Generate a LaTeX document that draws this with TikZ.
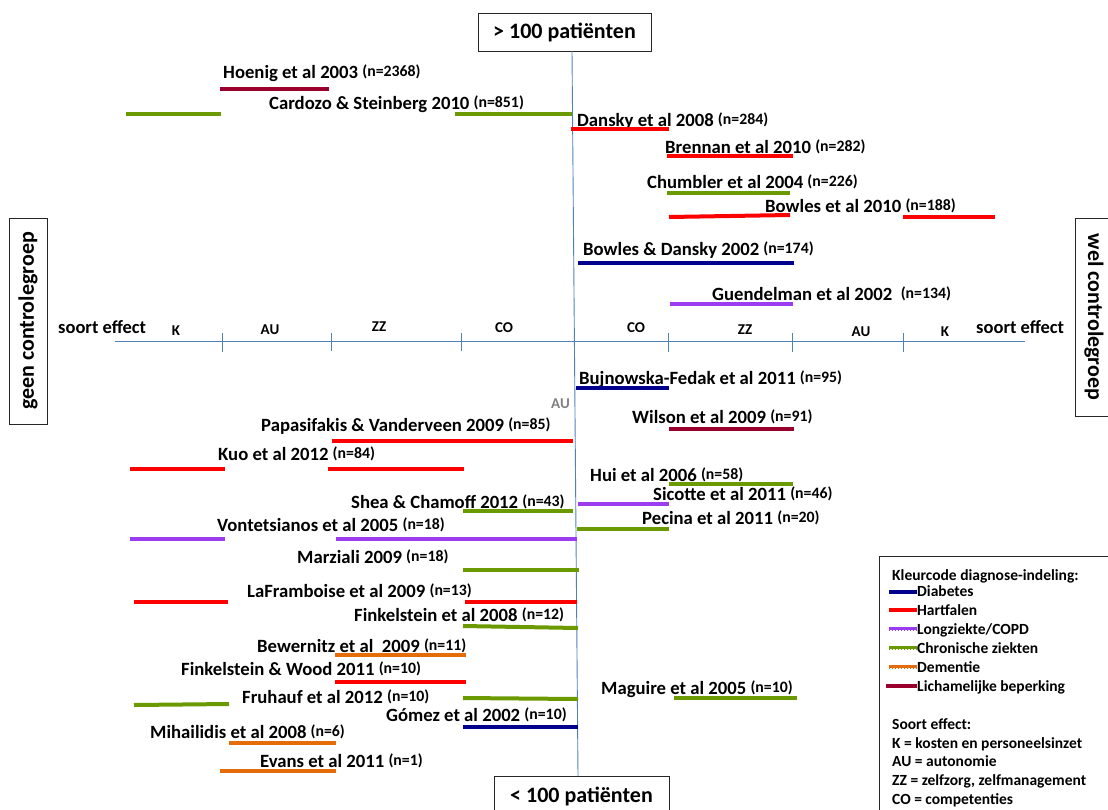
\documentclass[tikz,border=0pt]{standalone}
\usepackage{fontspec}
\setmainfont{Carlito}
\usepackage{tikz}

\definecolor{diabetes}{RGB}{0,0,140}
\definecolor{hartfalen}{RGB}{255,0,0}
\definecolor{longziekte}{RGB}{155,60,240}
\definecolor{chronisch}{RGB}{106,153,0}
\definecolor{dementie}{RGB}{228,108,10}
\definecolor{lichamelijk}{RGB}{153,0,45}
\definecolor{axisblue}{RGB}{79,129,189}

\newcommand{\nval}[1]{{\fontsize{15.8}{18}\selectfont\raisebox{2pt}{(n=#1)}}}

\begin{document}
\begin{tikzpicture}[x=1pt,y=-1pt,inner sep=0pt,
  study/.style={anchor=base west,font=\fontsize{18.7}{22}\selectfont\bfseries},
  effect/.style={anchor=base,font=\fontsize{15}{17}\selectfont\bfseries},
  sideeffect/.style={anchor=base west,font=\fontsize{18.5}{22}\selectfont\bfseries},
  legtext/.style={anchor=base west,font=\fontsize{15.5}{18}\selectfont\bfseries},
  frame/.style={draw=black!85,line width=0.9pt},
  bigbox/.style={frame,font=\fontsize{22}{25}\selectfont\bfseries},
  bar/.style={line width=4pt},
  legdash/.style={draw=white,line width=0.6pt,dash pattern=on 2pt off 1pt},
  axisline/.style={draw=axisblue,line width=0.9pt}]

\path[use as bounding box,clip] (0,0) rectangle (1108,809);

% kaders
\node (top) at (564.5,32) [bigbox,minimum width=173,minimum height=38] {> 100 patiënten};
\node (bottom) at (581.5,796) [bigbox,minimum width=175,minimum height=40] {< 100 patiënten};
\node (geen) at (28,321) [bigbox,rotate=90,minimum width=206,minimum height=38] {geen controlegroep};
\node (wel) at (1094,317) [bigbox,rotate=-90,minimum width=198,minimum height=38] {wel controlegroep};

% assen
\coordinate (ytop) at (572,51);
\coordinate (ybot) at (578,776);
\coordinate (xl) at (115,341);
\coordinate (xr) at (1025,341);
\draw[axisline] (ytop) -- (ybot);
\draw[axisline] (xl) -- (xr);
\draw[axisline] (222,333) -- (222,352);
\draw[axisline] (331,333) -- (331,351);
\draw[axisline] (461,333) -- (461,351);
\draw[axisline] (668,333) -- (668,352);
\draw[axisline] (792,333) -- (792,352);
\draw[axisline] (903,333) -- (903,352);

\node (seL) at (58,333) [sideeffect] {soort effect};
\node (seR) at (976,333) [sideeffect] {soort effect};
\node (kL) at (176,335) [effect] {K};
\node (auL) at (270,334) [effect] {AU};
\node (zzL) at (379,331) [effect] {ZZ};
\node (coL) at (504,332) [effect] {CO};
\node (coR) at (636,332) [effect] {CO};
\node (zzR) at (745,334) [effect] {ZZ};
\node (auR) at (861,336) [effect] {AU};
\node (kR) at (945,336) [effect] {K};
\node (au) at (551,408) [anchor=base west,text=black!50,font=\fontsize{15}{17}\selectfont\bfseries] {AU};

% studies boven
\node (hoenig) at (223,78) [study] {Hoenig et al 2003 \nval{2368}};
\draw[bar,lichamelijk] (220,89) -- (329,89);
\node (cardozo) at (269,109) [study] {Cardozo \& Steinberg 2010 \nval{851}};
\draw[bar,chronisch] (126,114) -- (221,114);
\draw[bar,chronisch] (455,114) -- (572,114);
\node (dansky) at (577,126) [study] {Dansky et al 2008 \nval{284}};
\draw[bar,hartfalen] (571,129) -- (669,129);
\node (brennan) at (665,153) [study] {Brennan et al 2010 \nval{282}};
\draw[bar,hartfalen] (667,156) -- (793,156);
\node (chumbler) at (647,188) [study] {Chumbler et al 2004 \nval{226}};
\draw[bar,chronisch] (667,193) -- (790,193);
\node (bowles) at (765,212) [study] {Bowles et al 2010 \nval{188}};
\draw[bar,hartfalen] (669,217) -- (790,215);
\draw[bar,hartfalen] (903,217) -- (995,217);
\node (bowlesdansky) at (583,255) [study] {Bowles \& Dansky 2002 \nval{174}};
\draw[bar,diabetes] (578,263) -- (794,263);
\node (guendelman) at (712,300) [study] {Guendelman et al 2002\ \ \nval{134}};
\draw[bar,longziekte] (670,304) -- (793,304);

% studies onder
\node (bujnowska) at (579,384) [study] {Bujnowska-Fedak et al 2011 \nval{95}};
\draw[bar,diabetes] (576,388) -- (669,388);
\node (wilson) at (632,423) [study] {Wilson et al 2009 \nval{91}};
\draw[bar,lichamelijk] (669,429) -- (794,429);
\node (papasifakis) at (261,431) [study] {Papasifakis \& Vanderveen 2009 \nval{85}};
\draw[bar,hartfalen] (332,441) -- (573,441);
\node (kuo) at (218,460) [study] {Kuo et al 2012 \nval{84}};
\draw[bar,hartfalen] (130,469) -- (225,469);
\draw[bar,hartfalen] (328,469) -- (464,469);
\node (hui) at (590,481) [study] {Hui et al 2006 \nval{58}};
\draw[bar,chronisch] (669,484) -- (793,484);
\node (sicotte) at (653,500) [study] {Sicotte et al 2011 \nval{46}};
\draw[bar,longziekte] (578,504) -- (669,504);
\node (shea) at (351,508) [study] {Shea \& Chamoff 2012 \nval{43}};
\draw[bar,chronisch] (463,511) -- (573,511);
\node (pecina) at (642,524) [study] {Pecina et al 2011 \nval{20}};
\draw[bar,chronisch] (577,529) -- (669,529);
\node (vontetsianos) at (217,531) [study] {Vontetsianos et al 2005 \nval{18}};
\draw[bar,longziekte] (130,539) -- (225,539);
\draw[bar,longziekte] (336,539) -- (577,539);
\node (marziali) at (297,563) [study] {Marziali 2009 \nval{18}};
\draw[bar,chronisch] (463,570) -- (579,570);
\node (laframboise) at (247,597) [study] {LaFramboise et al 2009 \nval{13}};
\draw[bar,hartfalen] (134,602) -- (228,602);
\draw[bar,hartfalen] (465,602) -- (577,602);
\node (finkelstein) at (354,621) [study] {Finkelstein et al 2008 \nval{12}};
\draw[bar,chronisch] (463,626) -- (578,628);
\node (bewernitz) at (257,652) [study] {Bewernitz et al\ \ 2009 \nval{11}};
\draw[bar,dementie] (335,655) -- (466,655);
\node (finkwood) at (181,675) [study] {Finkelstein \& Wood 2011 \nval{10}};
\draw[bar,hartfalen] (335,682) -- (466,682);
\node (maguire) at (601,694) [study] {Maguire et al 2005 \nval{10}};
\draw[bar,chronisch] (674,698) -- (797,698);
\node (fruhauf) at (242,703) [study] {Fruhauf et al 2012 \nval{10}};
\draw[bar,chronisch] (134,705) -- (229,704);
\draw[bar,chronisch] (463,698) -- (578,699);
\node (gomez) at (386,721) [study] {Gómez et al 2002 \nval{10}};
\draw[bar,diabetes] (463,727) -- (578,727);
\node (mihailidis) at (150,738) [study] {Mihailidis et al 2008 \nval{6}};
\draw[bar,dementie] (229,743) -- (336,743);
\node (evans) at (260,767) [study] {Evans et al 2011 \nval{1}};
\draw[bar,dementie] (220,771) -- (336,771);

% legenda
\draw[frame] (879,556) rectangle (1120,820);
\node (kleur) at (892,580) [legtext] {Kleurcode diagnose-indeling:};
\draw[bar,diabetes] (889,592) -- (917,592);
\node (ldia) at (917,596) [legtext] {Diabetes};
\draw[bar,hartfalen] (889,610) -- (917,610);
\node (lhart) at (917,615) [legtext] {Hartfalen};
\draw[bar,longziekte] (889,629) -- (917,629);
\draw[legdash] (890,630) -- (916,630);
\node (llong) at (917,634) [legtext] {Longziekte/COPD};
\draw[bar,chronisch] (889,648) -- (917,648);
\draw[legdash] (890,649) -- (916,649);
\node (lchron) at (917,653) [legtext] {Chronische ziekten};
\draw[bar,dementie] (889,667) -- (917,667);
\draw[legdash] (890,668) -- (916,668);
\node (ldem) at (917,672) [legtext] {Dementie};
\draw[bar,lichamelijk] (886,686) -- (917,686);
\node (llich) at (917,691) [legtext] {Lichamelijke beperking};
\node (soort) at (892,729) [legtext] {Soort effect:};
\node (lk) at (892,748) [legtext] {K = kosten en personeelsinzet};
\node (lau) at (892,766) [legtext] {AU = autonomie};
\node (lzz) at (892,785) [legtext] {ZZ = zelfzorg, zelfmanagement};
\node (lco) at (892,804) [legtext] {CO = competenties};
\end{tikzpicture}
\end{document}
